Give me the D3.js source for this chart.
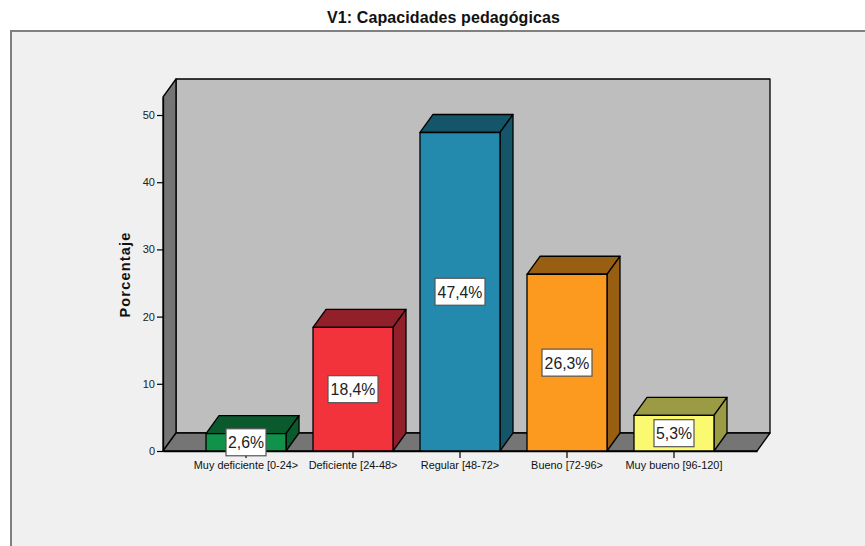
<!DOCTYPE html>
<html>
<head>
<meta charset="utf-8">
<script src="https://cdn.jsdelivr.net/npm/d3@7"></script>
<style>
  html, body { margin: 0; padding: 0; background: #fff; overflow: hidden; }
  text { font-family: "Liberation Sans", Arial, sans-serif; }
</style>
</head>
<body>
<div id="chart"></div>
<script>
const categories = ["Muy deficiente [0-24>", "Deficiente [24-48>", "Regular [48-72>", "Bueno [72-96>", "Muy bueno [96-120]"]
const values = [2.6, 18.4, 47.4, 26.3, 5.3]
const valueLabels = ["2,6%", "18,4%", "47,4%", "26,3%", "5,3%"]
const frontColors = ["#10924a", "#f2333b", "#2389ad", "#fb9a1e", "#fbf96f"]
const sideColors = ["#0a5a2e", "#92202a", "#155569", "#985e12", "#9b9b45"]
const yTicks = [0, 10, 20, 30, 40, 50]

const WIDTH = 865
const HEIGHT = 546
const PLOT = { LEFT: 163, RIGHT: 757, TOP: 97, BOTTOM: 451 }
const DEPTH = { X: 13, Y: -18 }
const Y_MAX = 52.68

const svg = d3.select("#chart")
              .append("svg")
              .attr("width", WIDTH)
              .attr("height", HEIGHT)
              .style("display", "block")

const x = d3.scaleBand()
            .domain(categories)
            .range([PLOT.LEFT, PLOT.RIGHT])
            .paddingInner(27 / 107)
            .paddingOuter(0.402)

const y = d3.scaleLinear()
            .domain([0, Y_MAX])
            .range([PLOT.BOTTOM, PLOT.TOP])

const line = d3.line()
const poly = pts => line(pts) + "Z"

// outer panel
svg.append("rect")
   .attr("x", 11)
   .attr("y", 31)
   .attr("width", WIDTH + 10)
   .attr("height", HEIGHT + 10)
   .attr("fill", "#f0f0f0")
   .attr("stroke", "#808080")
   .attr("stroke-width", 2)

svg.append("text")
   .attr("x", 443.5)
   .attr("y", 23)
   .attr("text-anchor", "middle")
   .attr("font-size", 16)
   .attr("font-weight", "bold")
   .attr("letter-spacing", 0.1)
   .attr("fill", "#111")
   .text("V1: Capacidades pedagógicas")

// 3d walls
const wallStyle = sel => sel.attr("stroke", "#000").attr("stroke-width", 1.3).attr("stroke-linejoin", "round")
const x0 = PLOT.LEFT, x1 = PLOT.RIGHT, yB = y(0), yT = y(Y_MAX)

svg.append("path")
   .attr("d", poly([[x0 + DEPTH.X, yT + DEPTH.Y], [x1 + DEPTH.X, yT + DEPTH.Y], [x1 + DEPTH.X, yB + DEPTH.Y], [x0 + DEPTH.X, yB + DEPTH.Y]]))
   .attr("fill", "#bebebe")
   .call(wallStyle)

svg.append("path")
   .attr("d", poly([[x0, yT], [x0 + DEPTH.X, yT + DEPTH.Y], [x0 + DEPTH.X, yB + DEPTH.Y], [x0, yB]]))
   .attr("fill", "#757575")
   .call(wallStyle)

svg.append("path")
   .attr("d", poly([[x0, yB], [x0 + DEPTH.X, yB + DEPTH.Y], [x1 + DEPTH.X, yB + DEPTH.Y], [x1, yB]]))
   .attr("fill", "#757575")
   .call(wallStyle)

// axes
const yAxis = d3.axisLeft(y).tickValues(yTicks).tickSize(6).tickSizeOuter(0).tickPadding(2).tickFormat(d3.format("d"))
const yAxisGroup = svg.append("g")
                      .attr("transform", `translate(${PLOT.LEFT},0)`)
                      .call(yAxis)
yAxisGroup.select(".domain").attr("stroke-width", 1.3)
yAxisGroup.selectAll("line").attr("stroke-width", 1.2)
yAxisGroup.selectAll("text").attr("font-size", 11).attr("font-family", "Liberation Sans").attr("fill", "#222")

const xAxis = d3.axisBottom(x).tickSize(7).tickPadding(3).tickSizeOuter(0)
const xAxisGroup = svg.append("g")
                      .attr("transform", `translate(0,${PLOT.BOTTOM})`)
                      .call(xAxis)
xAxisGroup.select(".domain").attr("stroke-width", 1.3)
xAxisGroup.selectAll("line").attr("stroke-width", 1.2)
xAxisGroup.selectAll("text").attr("font-size", 10.9).attr("font-family", "Liberation Sans").attr("fill", "#111")

svg.append("text")
   .attr("transform", "translate(130,274.5)rotate(-90)")
   .attr("text-anchor", "middle")
   .attr("font-size", 14.5)
   .attr("font-weight", "bold")
   .attr("letter-spacing", 1.2)
   .attr("fill", "#111")
   .text("Porcentaje")

// bars
const data = categories.map((c, i) => ({ c, v: values[i], label: valueLabels[i], front: frontColors[i], side: sideColors[i] }))
const bars = svg.selectAll(".bar")
                .data(data)
                .enter()
                .append("g")
                .attr("class", "bar")

bars.append("path")
    .attr("d", d => {
      const l = x(d.c), r = l + x.bandwidth()
      return poly([[l, y(d.v)], [l + DEPTH.X, y(d.v) + DEPTH.Y], [r + DEPTH.X, y(d.v) + DEPTH.Y], [r, y(d.v)]])
    })
    .attr("fill", d => d.side)
    .call(wallStyle)

bars.append("path")
    .attr("d", d => {
      const r = x(d.c) + x.bandwidth()
      return poly([[r, y(d.v)], [r + DEPTH.X, y(d.v) + DEPTH.Y], [r + DEPTH.X, y(0) + DEPTH.Y], [r, y(0)]])
    })
    .attr("fill", d => d.side)
    .call(wallStyle)

bars.append("rect")
    .attr("x", d => x(d.c))
    .attr("y", d => y(d.v))
    .attr("width", x.bandwidth())
    .attr("height", d => y(0) - y(d.v))
    .attr("fill", d => d.front)
    .call(wallStyle)

// value labels
const labels = bars.append("g")
                   .attr("transform", d => `translate(${x(d.c) + x.bandwidth() / 2},${(y(d.v) + y(0)) / 2})`)

labels.append("rect")
      .attr("x", d => d.label.length > 4 ? -25 : -20)
      .attr("y", -13.5)
      .attr("width", d => d.label.length > 4 ? 50 : 40)
      .attr("height", 27)
      .attr("fill", "#fff")
      .attr("stroke", "#555")
      .attr("stroke-width", 1.2)

labels.append("text")
      .attr("text-anchor", "middle")
      .attr("y", 6)
      .attr("font-size", 15.8)
      .attr("fill", "#222")
      .text(d => d.label)
</script>
</body>
</html>
